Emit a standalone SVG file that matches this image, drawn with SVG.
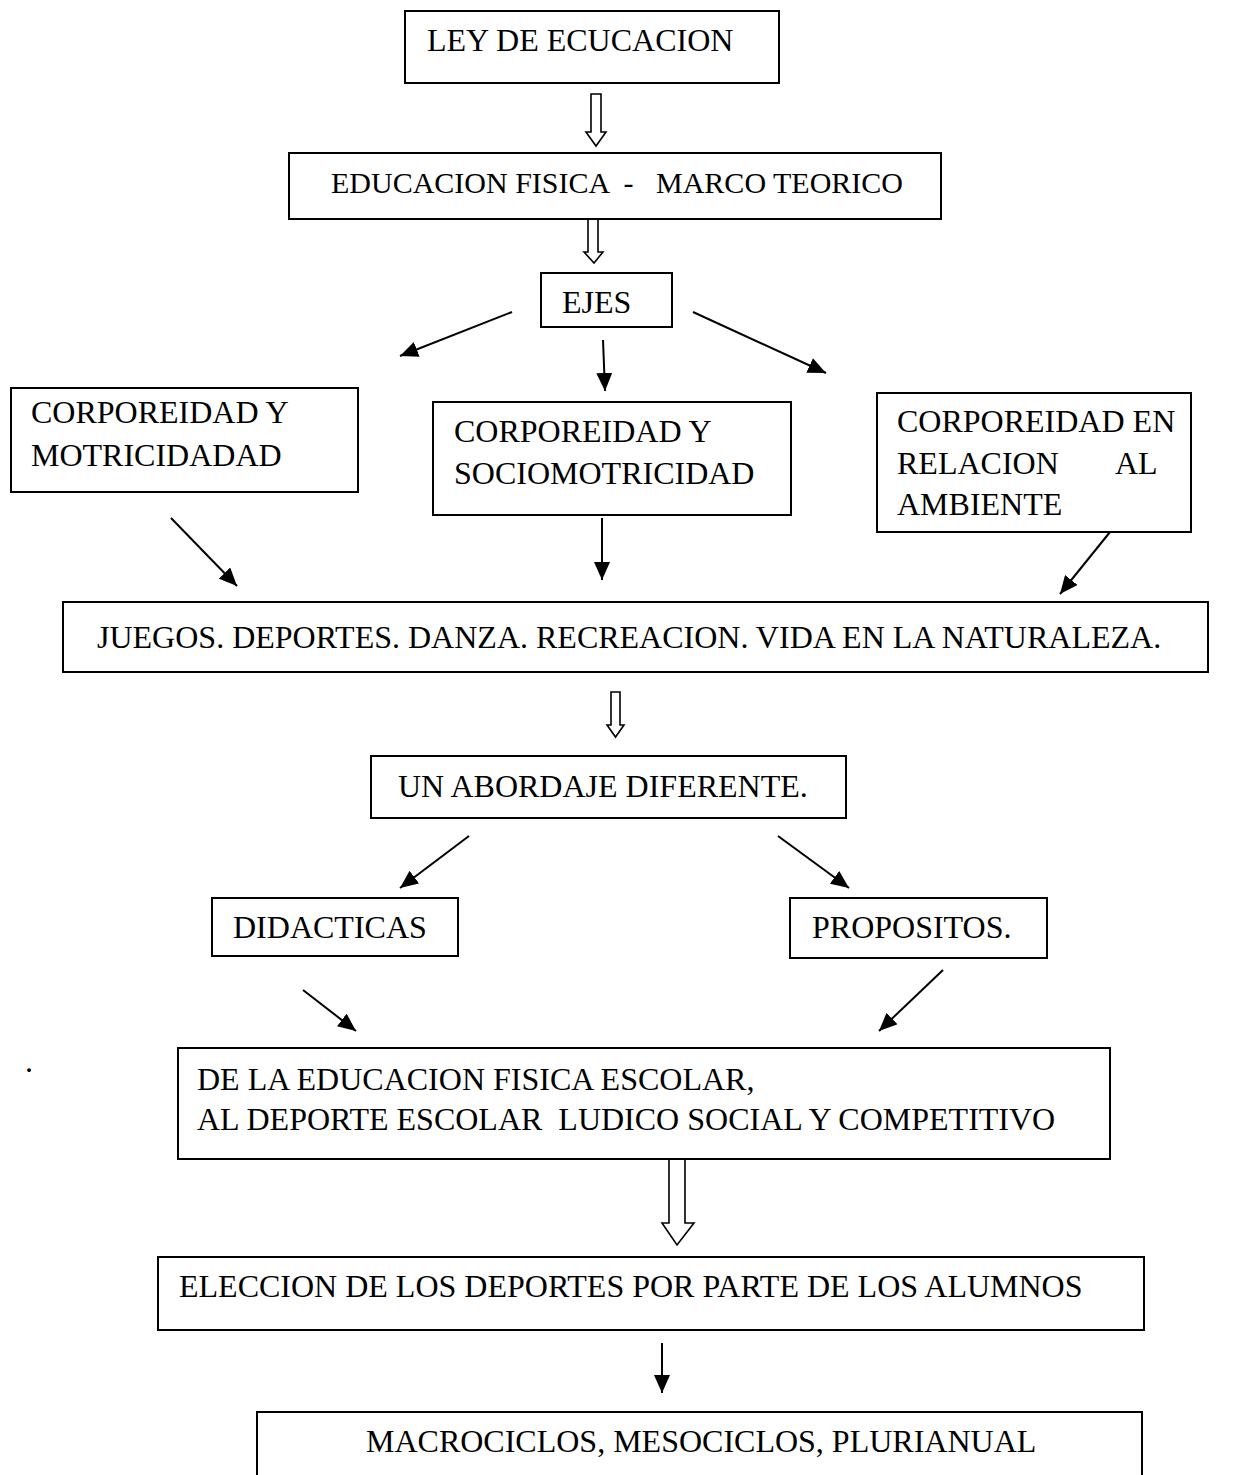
<svg xmlns="http://www.w3.org/2000/svg" width="1248" height="1475" viewBox="0 0 1248 1475">
  <style>
    .box { fill: #fff; stroke: #000; stroke-width: 2; }
    .t { font-family: "Liberation Serif", "Times New Roman", serif; font-size: 32px; fill: #000; white-space: pre; }
    .ln { stroke: #000; stroke-width: 2; fill: none; marker-end: url(#head); }
    .hollow { fill: #fff; stroke: #000; stroke-width: 1.6; stroke-linejoin: miter; }
  </style>
  <defs>
    <marker id="head" markerUnits="userSpaceOnUse" markerWidth="20" markerHeight="16" refX="18" refY="8" orient="auto">
      <path d="M0,0 L18,8 L0,16 Z" fill="#000"/>
    </marker>
  </defs>

  <rect width="1248" height="1475" fill="#fff"/>

  <!-- connectors -->
  <g id="connectors">
    <!-- block arrows -->
    <polygon class="hollow" points="591,94 601,94 601,132 606,132 596,146 586,132 591,132"/>
    <polygon class="hollow" points="588,219 598,219 598,252 603,252 594,263 584,252 588,252"/>
    <polygon class="hollow" points="611,692 620,692 620,725 624,725 615.5,737 607,725 611,725"/>
    <polygon class="hollow" points="669,1159 685,1159 685,1223 694,1223 677,1245 662,1223 669,1223"/>
    <!-- EJES branches -->
    <line class="ln" x1="512" y1="312" x2="400" y2="356"/>
    <line class="ln" x1="603" y1="340" x2="605" y2="391"/>
    <line class="ln" x1="693" y1="312" x2="826" y2="373"/>
    <!-- axes into activities -->
    <line class="ln" x1="171" y1="518" x2="237" y2="586"/>
    <line class="ln" x1="602" y1="518" x2="602" y2="580"/>
    <line class="ln" x1="1110" y1="532" x2="1060" y2="594"/>
    <!-- approach branches -->
    <line class="ln" x1="469" y1="836" x2="400" y2="888"/>
    <line class="ln" x1="778" y1="836" x2="849" y2="888"/>
    <line class="ln" x1="303" y1="990" x2="356" y2="1031"/>
    <line class="ln" x1="943" y1="970" x2="879" y2="1031"/>
    <line class="ln" x1="662" y1="1343" x2="662" y2="1393"/>
  </g>

  <!-- nodes -->
  <g id="ley">
    <rect class="box" x="405" y="11" width="374" height="72"/>
    <text class="t" x="427" y="51">LEY DE ECUCACION</text>
  </g>
  <g id="marco">
    <rect class="box" x="289" y="153" width="652" height="66"/>
    <text class="t" x="331" y="193" style="font-size:30px" xml:space="preserve">EDUCACION FISICA  -   MARCO TEORICO</text>
  </g>
  <g id="ejes">
    <rect class="box" x="541" y="273" width="131" height="54"/>
    <text class="t" x="562" y="313">EJES</text>
  </g>
  <g id="motricidad">
    <rect class="box" x="11" y="388" width="347" height="104"/>
    <text class="t" x="31" y="423">CORPOREIDAD Y</text>
    <text class="t" x="31" y="466">MOTRICIDADAD</text>
  </g>
  <g id="sociomotricidad">
    <rect class="box" x="433" y="402" width="358" height="113"/>
    <text class="t" x="454" y="442">CORPOREIDAD Y</text>
    <text class="t" x="454" y="484">SOCIOMOTRICIDAD</text>
  </g>
  <g id="ambiente">
    <rect class="box" x="877" y="393" width="314" height="139"/>
    <text class="t" x="897" y="432">CORPOREIDAD EN</text>
    <text class="t" x="897" y="474">RELACION</text>
    <text class="t" x="1115" y="474">AL</text>
    <text class="t" x="897" y="515">AMBIENTE</text>
  </g>
  <g id="actividades">
    <rect class="box" x="63" y="602" width="1145" height="70"/>
    <text class="t" x="97" y="648">JUEGOS. DEPORTES. DANZA. RECREACION. VIDA EN LA NATURALEZA.</text>
  </g>
  <g id="abordaje">
    <rect class="box" x="371" y="756" width="475" height="62"/>
    <text class="t" x="398" y="797">UN ABORDAJE DIFERENTE.</text>
  </g>
  <g id="didacticas">
    <rect class="box" x="212" y="898" width="246" height="58"/>
    <text class="t" x="233" y="938">DIDACTICAS</text>
  </g>
  <g id="propositos">
    <rect class="box" x="790" y="898" width="257" height="60"/>
    <text class="t" x="812" y="938">PROPOSITOS.</text>
  </g>
  <g id="deporte-escolar">
    <rect class="box" x="178" y="1048" width="932" height="111"/>
    <text class="t" x="197" y="1090">DE LA EDUCACION FISICA ESCOLAR,</text>
    <text class="t" x="197" y="1130" xml:space="preserve">AL DEPORTE ESCOLAR  LUDICO SOCIAL Y COMPETITIVO</text>
  </g>
  <g id="eleccion">
    <rect class="box" x="158" y="1257" width="986" height="73"/>
    <text class="t" x="179" y="1297">ELECCION DE LOS DEPORTES POR PARTE DE LOS ALUMNOS</text>
  </g>
  <g id="ciclos">
    <rect class="box" x="257" y="1412" width="885" height="80"/>
    <text class="t" x="366" y="1452">MACROCICLOS, MESOCICLOS, PLURIANUAL</text>
  </g>

  <text class="t" x="25" y="1072">.</text>
</svg>
